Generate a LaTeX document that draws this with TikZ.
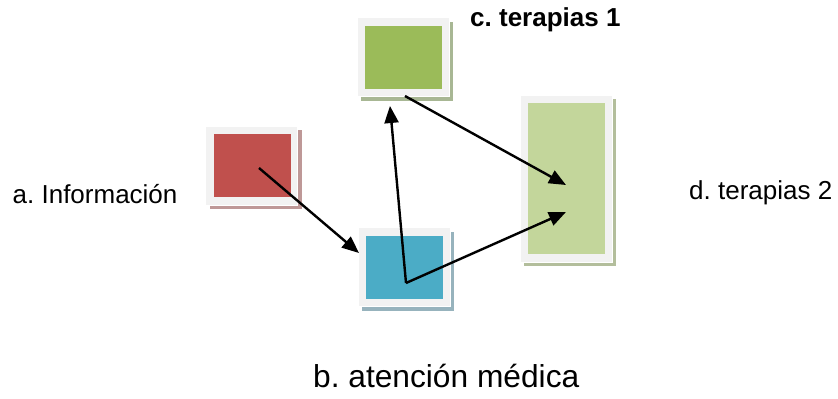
\documentclass[tikz,border=0pt]{standalone}
\usepackage{fontspec}
\setmainfont{Liberation Sans}
\usetikzlibrary{arrows.meta,shadows}

\definecolor{marco}{HTML}{F2F2F2}
\definecolor{rojo}{HTML}{C0504D}
\definecolor{verde}{HTML}{9BBB59}
\definecolor{azul}{HTML}{4BACC6}
\definecolor{verdeclaro}{HTML}{C3D69B}
\definecolor{sombrarojo}{HTML}{BE9897}
\definecolor{sombraverde}{HTML}{A8B794}
\definecolor{sombraazul}{HTML}{97B3BD}
\definecolor{sombraclaro}{HTML}{B3BE9C}

\tikzset{
  caja/.style 2 args={rectangle,fill=marco,draw=white,line width=0.8bp,inner sep=0pt,
    minimum width=92bp,minimum height=79bp,
    path picture={\fill[#1] ([shift={(8bp,-8bp)}]path picture bounding box.north west)
      rectangle ([shift={(-7bp,8bp)}]path picture bounding box.south east);},
    drop shadow={shadow xshift=4bp,shadow yshift=-4bp,fill=#2,opacity=1}},
  texto/.style={anchor=base west,inner sep=0pt,font=\fontsize{26bp}{30bp}\selectfont},
  flecha/.style={line width=2.4bp,-{Triangle[length=17bp,width=14bp]}}
}
\frenchspacing

\begin{document}
\begin{tikzpicture}[x=1bp,y=-1bp]
\useasboundingbox (0,0) rectangle (838,398);

\node [caja={rojo}{sombrarojo}] (info) at (251.5,165.5) {};
\node [caja={verde}{sombraverde}] (ter1) at (403,57) {};
\node [caja={azul}{sombraazul}] (aten) at (404,267) {};
\node [caja={verdeclaro}{sombraclaro},minimum height=167bp] (ter2) at (566,178.5) {};

\node [texto] (la) at (12.5,203) {a. Información};
\node [texto,font=\fontsize{31.7bp}{36bp}\selectfont] (lb) at (313,387) {b. atención médica};
\node [texto,font=\fontsize{26bp}{30bp}\selectfont\bfseries] (lc) at (470,26) {c. terapias 1};
\node [texto] (ld) at (689,199) {d. terapias 2};

\coordinate (ini) at (259,168);
\coordinate (vert) at (406,283);
\coordinate (sal) at (405,96);
\coordinate (pa) at (359,253);
\coordinate (pc) at (390,106);
\coordinate (pd1) at (566,185);
\coordinate (pd2) at (566,212);

\draw [flecha] (ini) -- (pa);
\draw [flecha] (vert) -- (pc);
\draw [flecha] (vert) -- (pd2);
\draw [flecha] (sal) -- (pd1);
\end{tikzpicture}
\end{document}
